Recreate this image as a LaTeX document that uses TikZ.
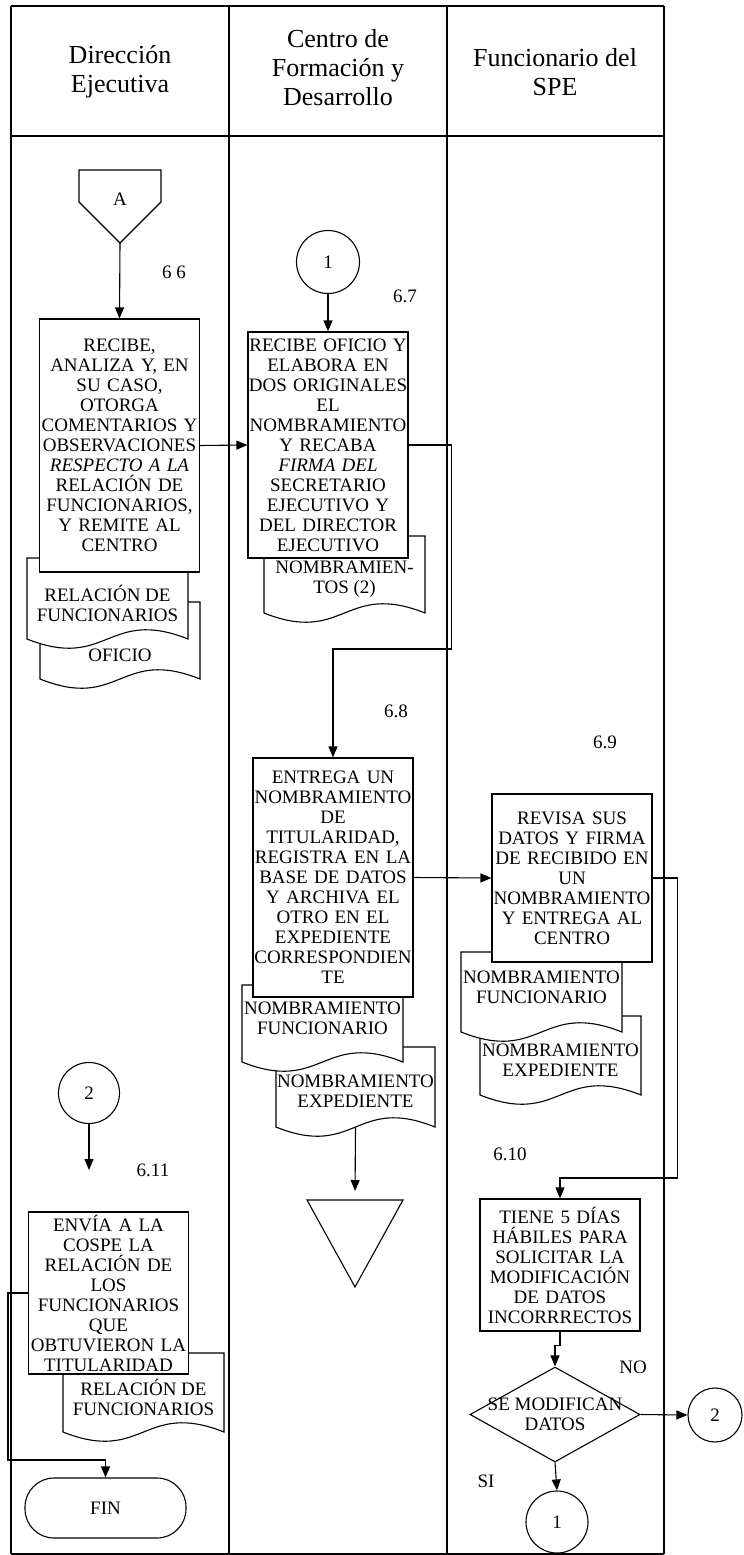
\documentclass[tikz,border=0pt]{standalone}
\usepackage{fontspec}
\setmainfont{Liberation Serif}
\usetikzlibrary{arrows.meta, shapes.geometric}

% document sheet: name, left, top, right, bottom, text y, text
\newcommand{\docsheet}[7]{%
    \draw[fill=white] (#2,#3) -- (#4,#3) -- (#4,#5)
        .. controls ({(#2+#4)/2},{#5-32}) and ({(#2+#4)/2},{#5+32}) .. (#2,#5) -- cycle;
    \coordinate (#1-b) at ({(#2+#4)/2},#5);
    \node[doctext] (#1) at ({(#2+#4)/2},#6) {#7};
}

\begin{document}
\begin{tikzpicture}[x=1pt, y=-1pt, >={Triangle[length=11pt,width=9pt]}, line width=1.1pt,
    txt/.style={font=\fontsize{19}{20}\selectfont, align=center, inner sep=0pt},
    doctext/.style={txt},
    procbox/.style={draw, fill=white, txt, text width=160pt, minimum width=160pt},
    title/.style={font=\fontsize{26}{29}\selectfont, align=center, inner sep=0pt},
    stepnum/.style={font=\fontsize{19}{20}\selectfont, inner sep=0pt},
    linkcircle/.style={circle, draw, fill=white, font=\fontsize{19}{20}\selectfont, inner sep=0pt},
    decision/.style={diamond, draw, fill=white, minimum width=170pt, minimum height=95pt, inner sep=0pt},
    terminal/.style={draw, fill=white, rounded corners=29pt, minimum width=161pt, minimum height=60pt, font=\fontsize{19}{20}\selectfont}]

    % Page size
    \useasboundingbox (0,0) rectangle (744,1555);

    % Swimlane frame
    \foreach \x in {11,229,447,664} {
        \draw[line width=1.3pt] (\x,6) -- (\x,1554);
    }
    \foreach \y in {6,136,1554} {
        \draw[line width=1.3pt] (11,\y) -- (664,\y);
    }

    % Lane titles
    \node[title] (laneA) at (120,72) {Dirección\\Ejecutiva};
    \node[title] (laneB) at (338,68) {Centro de\\Formación y\\Desarrollo};
    \node[title] (laneC) at (555,72) {Funcionario del\\SPE};

    % Off-page connector A
    \draw[fill=white] (79,170) -- (161,170) -- (161,202) -- (120,243) -- (79,202) -- cycle;
    \node[txt] (offA) at (120,199) {A};
    \coordinate (offA-tip) at (120,243);

    % Step 6.6
    \node[stepnum] (n66) at (174,272) {6 6};
    \docsheet{dof}{40}{602}{200}{679}{655}{OFICIO}
    \docsheet{drel}{27}{558}{188}{639}{603}{RELACIÓN DE\\FUNCIONARIOS}
    \node[procbox, minimum height=253pt] (b66) at (119.5,445.5)
        {RECIBE,\\ANALIZA Y, EN\\SU CASO,\\OTORGA\\COMENTARIOS Y\\OBSERVACIONES\\\textit{RESPECTO A LA}\\RELACIÓN DE\\FUNCIONARIOS,\\Y REMITE AL\\CENTRO};

    % Step 6.7
    \node[linkcircle, minimum size=63pt] (c1a) at (328,262) {1};
    \node[stepnum] (n67) at (405,296) {6.7};
    \docsheet{dnom}{264}{536}{425}{613}{579}{NOMBRAMIEN-\\TOS (2)}
    \node[procbox, minimum height=226pt] (b67) at (328,445)
        {RECIBE OFICIO Y\\ELABORA EN\\DOS ORIGINALES\\EL\\NOMBRAMIENTO\\Y RECABA\\\textit{FIRMA DEL}\\SECRETARIO\\EJECUTIVO Y\\DEL DIRECTOR\\EJECUTIVO};

    % Step 6.8
    \node[stepnum] (n68) at (396,711) {6.8};
    \docsheet{dexp}{276}{1047}{435}{1127}{1091}{NOMBRAMIENTO\\EXPEDIENTE}
    \docsheet{dfun}{242}{985}{403}{1062}{1018}{NOMBRAMIENTO\\FUNCIONARIO}
    \node[procbox, minimum height=239pt] (b68) at (333,877.5)
        {ENTREGA UN\\NOMBRAMIENTO\\DE\\TITULARIDAD,\\REGISTRA EN LA\\BASE DE DATOS\\Y ARCHIVA EL\\OTRO EN EL\\EXPEDIENTE\\CORRESPONDIEN\\TE};

    % Archive triangle
    \draw[fill=white] (307,1200) -- (403,1200) -- (355,1287) -- cycle;
    \coordinate (arch-top) at (355,1200);

    % Step 6.9
    \node[stepnum] (n69) at (605,742) {6.9};
    \docsheet{dexpb}{480}{1016}{641}{1095}{1060}{NOMBRAMIENTO\\EXPEDIENTE}
    \docsheet{dfunb}{461}{952}{622}{1032}{987}{NOMBRAMIENTO\\FUNCIONARIO}
    \node[procbox, minimum height=168pt] (b69) at (572,878)
        {REVISA SUS\\DATOS Y FIRMA\\DE RECIBIDO EN\\UN\\NOMBRAMIENTO\\Y ENTREGA AL\\CENTRO};

    % Step 6.10
    \node[stepnum] (n610) at (510,1154) {6.10};
    \node[procbox, minimum height=132pt] (b610) at (560,1265)
        {TIENE 5 DÍAS\\HÁBILES PARA\\SOLICITAR LA\\MODIFICACIÓN\\DE DATOS\\INCORRRECTOS};
    \node[decision, label={[txt]center:{SE MODIFICAN\\DATOS}}] (dec) at (555,1414.5) {};
    \node[stepnum] (lblNo) at (633,1367) {NO};
    \node[stepnum] (lblSi) at (486,1481) {SI};
    \node[linkcircle, minimum size=54pt] (c2b) at (715,1415) {2};
    \node[linkcircle, minimum size=62pt] (c1b) at (557,1522) {1};

    % Step 6.11
    \node[linkcircle, minimum size=61pt] (c2a) at (89,1093) {2};
    \coordinate (c2a-end) at (89,1170);
    \node[stepnum] (n611) at (153,1170) {6.11};
    \docsheet{drelb}{63}{1353}{224}{1432}{1397}{RELACIÓN DE\\FUNCIONARIOS}
    \node[procbox, minimum height=162pt] (b611) at (108.5,1293)
        {ENVÍA A LA\\COSPE LA\\RELACIÓN DE\\LOS\\FUNCIONARIOS\\QUE\\OBTUVIERON LA\\TITULARIDAD};
    \node[terminal] (fin) at (105.5,1508) {FIN};

    % Connectors
    \draw[->] (offA-tip) -- (b66.north);
    \draw[->] (b66.east) -- (b67.west);
    \draw[->] (c1a.south) -- (b67.north);
    \draw[->] (b67.east) -- ++(43,0) -- ++(0,204) -| (b68.north);
    \draw[->] (b68.east) -- (b69.west);
    \draw[->, shorten >=9pt] (dexp-b) -- (arch-top);
    \draw[->] (b69.east) -- ++(25,0) -- ++(0,300) -| (b610.north);
    \draw[->] (b610.south) -- ++(0,14) -| (dec.north);
    \draw[->] (dec.east) -- (c2b.west);
    \draw[->] (dec.south) -- (c1b.north);
    \draw[->] (c2a.south) -- (c2a-end);
    \draw[->] (b611.west) -- ++(-20,0) -- ++(0,167) -| (fin.north);
\end{tikzpicture}
\end{document}
